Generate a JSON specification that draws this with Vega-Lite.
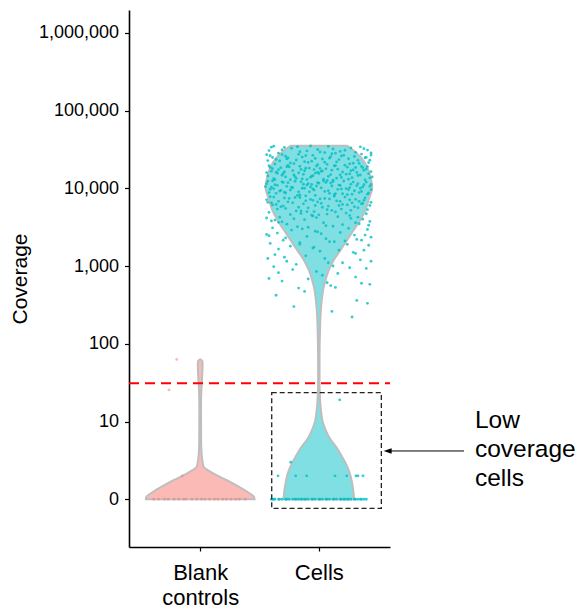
{
  "$schema": "https://vega.github.io/schema/vega-lite/v6.json",
  "width": 261,
  "height": 537,
  "padding": {"left": 9, "top": 10, "right": 0, "bottom": 0},
  "config": {
    "font": "Liberation Sans",
    "view": {"stroke": null},
    "axis": {"grid": false, "domainColor": "#000000", "domainWidth": 1.6, "tickColor": "#000000", "tickWidth": 1.2, "labelColor": "#000000", "titleColor": "#000000", "titleFontWeight": "normal"}
  },
  "datasets": {
    "vcells": [
      {"c": 35200, "x": 1.761, "x2": 2.239},
      {"c": 30000, "x": 1.700, "x2": 2.300},
      {"c": 25400, "x": 1.650, "x2": 2.350},
      {"c": 18900, "x": 1.594, "x2": 2.406},
      {"c": 14000, "x": 1.566, "x2": 2.434},
      {"c": 10400, "x": 1.550, "x2": 2.450},
      {"c": 7400, "x": 1.576, "x2": 2.424},
      {"c": 5240, "x": 1.608, "x2": 2.392},
      {"c": 3900, "x": 1.651, "x2": 2.349},
      {"c": 2900, "x": 1.706, "x2": 2.294},
      {"c": 2150, "x": 1.762, "x2": 2.238},
      {"c": 1600, "x": 1.818, "x2": 2.182},
      {"c": 1190, "x": 1.874, "x2": 2.126},
      {"c": 885, "x": 1.916, "x2": 2.084},
      {"c": 658, "x": 1.944, "x2": 2.056},
      {"c": 489, "x": 1.964, "x2": 2.036},
      {"c": 363, "x": 1.975, "x2": 2.025},
      {"c": 269, "x": 1.983, "x2": 2.017},
      {"c": 149, "x": 1.990, "x2": 2.010},
      {"c": 60, "x": 1.994, "x2": 2.006},
      {"c": 28, "x": 1.994, "x2": 2.006},
      {"c": 17.8, "x": 1.989, "x2": 2.011},
      {"c": 11.8, "x": 1.979, "x2": 2.021},
      {"c": 8.8, "x": 1.966, "x2": 2.034},
      {"c": 6.7, "x": 1.941, "x2": 2.059},
      {"c": 5.1, "x": 1.908, "x2": 2.092},
      {"c": 3.7, "x": 1.853, "x2": 2.147},
      {"c": 2.68, "x": 1.811, "x2": 2.189},
      {"c": 1.9, "x": 1.773, "x2": 2.227},
      {"c": 1.29, "x": 1.744, "x2": 2.256},
      {"c": 0.76, "x": 1.724, "x2": 2.276},
      {"c": 0.31, "x": 1.710, "x2": 2.290},
      {"c": 0, "x": 1.702, "x2": 2.298}
    ],
    "vblank": [
      {"c": 61.8, "x": 0.996, "x2": 1.004},
      {"c": 58.7, "x": 0.982, "x2": 1.018},
      {"c": 52, "x": 0.980, "x2": 1.020},
      {"c": 38.5, "x": 0.983, "x2": 1.017},
      {"c": 24.3, "x": 0.990, "x2": 1.010},
      {"c": 13, "x": 0.993, "x2": 1.007},
      {"c": 4.75, "x": 0.992, "x2": 1.008},
      {"c": 2.68, "x": 0.987, "x2": 1.013},
      {"c": 1.9, "x": 0.978, "x2": 1.022},
      {"c": 1.6, "x": 0.970, "x2": 1.030},
      {"c": 1.35, "x": 0.933, "x2": 1.067},
      {"c": 1.14, "x": 0.888, "x2": 1.112},
      {"c": 0.76, "x": 0.776, "x2": 1.224},
      {"c": 0.44, "x": 0.672, "x2": 1.328},
      {"c": 0.24, "x": 0.601, "x2": 1.399},
      {"c": 0.07, "x": 0.546, "x2": 1.454},
      {"c": 0, "x": 0.542, "x2": 1.458}
    ],
    "pblank": [
      {"x": 0.802, "c": 62}, {"x": 0.737, "c": 24.5}, {"x": 0.849, "c": 1},
      {"x": 0.61, "c": 0}, {"x": 0.65, "c": 0}, {"x": 0.70, "c": 0}, {"x": 0.73, "c": 0}, {"x": 0.78, "c": 0},
      {"x": 0.82, "c": 0}, {"x": 0.86, "c": 0}, {"x": 0.88, "c": 0}, {"x": 0.93, "c": 0}, {"x": 0.97, "c": 0},
      {"x": 1.01, "c": 0}, {"x": 1.04, "c": 0}, {"x": 1.08, "c": 0}, {"x": 1.12, "c": 0}, {"x": 1.15, "c": 0},
      {"x": 1.19, "c": 0}, {"x": 1.22, "c": 0}, {"x": 1.26, "c": 0}, {"x": 1.30, "c": 0}, {"x": 1.33, "c": 0}, {"x": 1.38, "c": 0}
    ],
    "pcells": [
      {"x": 1.62, "c": 34800}, {"x": 1.71, "c": 33500}, {"x": 2.35, "c": 34100}, {"x": 1.93, "c": 35000}, {"x": 2.12, "c": 32000},
      {"x": 1.58, "c": 30500}, {"x": 2.41, "c": 31000}, {"x": 1.84, "c": 29500}, {"x": 2.05, "c": 28800}, {"x": 2.27, "c": 33000},
      {"x": 1.66, "c": 28200}, {"x": 1.99, "c": 31500}, {"x": 2.18, "c": 29800}, {"x": 2.44, "c": 28500}, {"x": 1.77, "c": 32800},
      {"x": 2.08, "c": 34500}, {"x": 1.90, "c": 30200}, {"x": 2.31, "c": 29000}, {"x": 1.60, "c": 33800}, {"x": 2.22, "c": 30800},
      {"x": 1.82, "c": 34200}, {"x": 2.38, "c": 32300}, {"x": 1.69, "c": 31200}, {"x": 2.01, "c": 29300}, {"x": 2.14, "c": 28300},
      {"x": 1.56, "c": 27000}, {"x": 1.74, "c": 24500}, {"x": 2.29, "c": 21000}, {"x": 1.95, "c": 26500}, {"x": 2.43, "c": 23000},
      {"x": 1.63, "c": 20500}, {"x": 2.10, "c": 25500}, {"x": 1.88, "c": 22000}, {"x": 2.36, "c": 27500}, {"x": 1.79, "c": 20800},
      {"x": 2.03, "c": 23800}, {"x": 2.19, "c": 26000}, {"x": 1.67, "c": 22500}, {"x": 2.40, "c": 25000}, {"x": 1.91, "c": 21500},
      {"x": 2.25, "c": 24000}, {"x": 1.59, "c": 26200}, {"x": 2.07, "c": 20300}, {"x": 1.83, "c": 27300}, {"x": 2.33, "c": 22800},
      {"x": 1.72, "c": 25800}, {"x": 1.97, "c": 24200}, {"x": 2.15, "c": 21800}, {"x": 2.44, "c": 26800}, {"x": 1.64, "c": 23500},
      {"x": 2.26, "c": 20600}, {"x": 1.86, "c": 25200}, {"x": 2.11, "c": 27800}, {"x": 1.76, "c": 21200}, {"x": 2.39, "c": 24700},
      {"x": 1.94, "c": 22300}, {"x": 2.21, "c": 26600}, {"x": 1.61, "c": 24900}, {"x": 2.05, "c": 21600}, {"x": 1.81, "c": 23100},
      {"x": 2.30, "c": 25600}, {"x": 1.69, "c": 27100}, {"x": 1.99, "c": 20100}, {"x": 2.17, "c": 23400}, {"x": 2.42, "c": 21400},
      {"x": 1.57, "c": 22700}, {"x": 2.09, "c": 24400}, {"x": 1.89, "c": 26300}, {"x": 2.34, "c": 20900}, {"x": 1.73, "c": 23900},
      {"x": 1.58, "c": 19500}, {"x": 1.92, "c": 18200}, {"x": 2.27, "c": 16800}, {"x": 1.70, "c": 15500}, {"x": 2.08, "c": 14200},
      {"x": 2.41, "c": 19000}, {"x": 1.81, "c": 13400}, {"x": 2.16, "c": 17600}, {"x": 1.63, "c": 12900}, {"x": 1.99, "c": 16100},
      {"x": 2.35, "c": 14800}, {"x": 1.75, "c": 18800}, {"x": 2.04, "c": 13100}, {"x": 2.22, "c": 19800}, {"x": 1.87, "c": 15100},
      {"x": 2.44, "c": 16400}, {"x": 1.66, "c": 17300}, {"x": 2.12, "c": 12700}, {"x": 1.95, "c": 14500}, {"x": 2.31, "c": 18500},
      {"x": 1.56, "c": 15900}, {"x": 1.84, "c": 19200}, {"x": 2.19, "c": 13800}, {"x": 2.38, "c": 17000}, {"x": 1.72, "c": 14000},
      {"x": 2.01, "c": 18000}, {"x": 1.60, "c": 16600}, {"x": 2.26, "c": 15300}, {"x": 1.90, "c": 13000}, {"x": 2.13, "c": 19400},
      {"x": 1.78, "c": 16900}, {"x": 2.43, "c": 13600}, {"x": 2.06, "c": 17800}, {"x": 1.68, "c": 18400}, {"x": 2.33, "c": 14600},
      {"x": 1.97, "c": 15700}, {"x": 1.62, "c": 13300}, {"x": 2.20, "c": 16200}, {"x": 1.85, "c": 17500}, {"x": 2.39, "c": 12800},
      {"x": 1.74, "c": 19700}, {"x": 2.10, "c": 15000}, {"x": 1.93, "c": 13900}, {"x": 2.29, "c": 17200}, {"x": 1.57, "c": 14400},
      {"x": 2.02, "c": 16500}, {"x": 2.24, "c": 18700}, {"x": 1.80, "c": 14100}, {"x": 2.36, "c": 19100}, {"x": 1.65, "c": 15600},
      {"x": 2.15, "c": 13500}, {"x": 1.89, "c": 18100}, {"x": 2.42, "c": 15400}, {"x": 1.71, "c": 16300}, {"x": 2.07, "c": 12600},
      {"x": 1.98, "c": 19300}, {"x": 2.28, "c": 13700}, {"x": 1.61, "c": 17900}, {"x": 1.83, "c": 15800}, {"x": 2.18, "c": 14900},
      {"x": 2.40, "c": 17700}, {"x": 1.76, "c": 12900}, {"x": 2.03, "c": 16700}, {"x": 1.94, "c": 14300}, {"x": 2.32, "c": 16000},
      {"x": 1.59, "c": 18600}, {"x": 2.11, "c": 17100}, {"x": 1.86, "c": 13200}, {"x": 2.23, "c": 15200}, {"x": 1.69, "c": 14700},
      {"x": 2.37, "c": 18300}, {"x": 1.96, "c": 17400}, {"x": 1.64, "c": 16100}, {"x": 2.14, "c": 19600}, {"x": 1.79, "c": 14800},
      {"x": 2.25, "c": 13100}, {"x": 2.00, "c": 15500}, {"x": 1.73, "c": 18900}, {"x": 2.45, "c": 14000}, {"x": 1.88, "c": 16800},
      {"x": 1.57, "c": 12300}, {"x": 1.91, "c": 11500}, {"x": 2.26, "c": 10200}, {"x": 1.68, "c": 9400}, {"x": 2.09, "c": 8600},
      {"x": 2.40, "c": 12000}, {"x": 1.82, "c": 8100}, {"x": 2.17, "c": 11000}, {"x": 1.62, "c": 9900}, {"x": 1.98, "c": 10700},
      {"x": 2.34, "c": 8800}, {"x": 1.74, "c": 11800}, {"x": 2.05, "c": 9100}, {"x": 2.21, "c": 12400}, {"x": 1.88, "c": 10000},
      {"x": 2.44, "c": 9600}, {"x": 1.65, "c": 10900}, {"x": 2.13, "c": 8300}, {"x": 1.94, "c": 11200}, {"x": 2.30, "c": 9300},
      {"x": 1.55, "c": 10500}, {"x": 1.85, "c": 12100}, {"x": 2.20, "c": 8500}, {"x": 2.37, "c": 10400}, {"x": 1.71, "c": 8900},
      {"x": 2.00, "c": 11600}, {"x": 1.59, "c": 9700}, {"x": 2.27, "c": 11300}, {"x": 1.89, "c": 8000}, {"x": 2.12, "c": 12200},
      {"x": 1.77, "c": 10300}, {"x": 2.42, "c": 8700}, {"x": 2.06, "c": 11900}, {"x": 1.67, "c": 9200}, {"x": 2.32, "c": 10800},
      {"x": 1.96, "c": 9500}, {"x": 1.61, "c": 12500}, {"x": 2.19, "c": 9800}, {"x": 1.84, "c": 8200}, {"x": 2.38, "c": 11100},
      {"x": 1.73, "c": 10600}, {"x": 2.10, "c": 11700}, {"x": 1.92, "c": 9000}, {"x": 2.28, "c": 8400}, {"x": 1.56, "c": 11400},
      {"x": 2.02, "c": 10100}, {"x": 2.23, "c": 9900}, {"x": 1.80, "c": 12300}, {"x": 2.35, "c": 10000}, {"x": 1.64, "c": 8600},
      {"x": 2.16, "c": 9700}, {"x": 1.90, "c": 11000}, {"x": 2.43, "c": 10600}, {"x": 1.70, "c": 11900}, {"x": 2.08, "c": 9300},
      {"x": 1.97, "c": 8100}, {"x": 2.29, "c": 12000}, {"x": 1.60, "c": 10300}, {"x": 1.83, "c": 9000}, {"x": 2.18, "c": 10900},
      {"x": 2.41, "c": 8400}, {"x": 1.76, "c": 9500}, {"x": 2.04, "c": 12400}, {"x": 1.93, "c": 10400}, {"x": 2.33, "c": 11500},
      {"x": 1.58, "c": 8800}, {"x": 2.11, "c": 10700}, {"x": 1.87, "c": 11300}, {"x": 2.24, "c": 8300}, {"x": 1.69, "c": 12100},
      {"x": 2.36, "c": 9100}, {"x": 1.95, "c": 9800}, {"x": 1.63, "c": 11100}, {"x": 2.14, "c": 8500}, {"x": 1.78, "c": 10200},
      {"x": 2.25, "c": 9600}, {"x": 1.99, "c": 11800}, {"x": 1.72, "c": 8700}, {"x": 2.44, "c": 11200}, {"x": 1.86, "c": 10000},
      {"x": 1.59, "c": 7800}, {"x": 1.93, "c": 7200}, {"x": 2.28, "c": 6500}, {"x": 1.70, "c": 5900}, {"x": 2.07, "c": 5300},
      {"x": 2.39, "c": 7500}, {"x": 1.81, "c": 5100}, {"x": 2.15, "c": 6900}, {"x": 1.64, "c": 6200}, {"x": 1.99, "c": 6700},
      {"x": 2.33, "c": 5600}, {"x": 1.75, "c": 7400}, {"x": 2.03, "c": 5700}, {"x": 2.22, "c": 7700}, {"x": 1.87, "c": 6300},
      {"x": 2.43, "c": 6000}, {"x": 1.66, "c": 6800}, {"x": 2.11, "c": 5200}, {"x": 1.95, "c": 7000}, {"x": 2.30, "c": 5800},
      {"x": 1.57, "c": 6600}, {"x": 1.84, "c": 7600}, {"x": 2.19, "c": 5400}, {"x": 2.37, "c": 6400}, {"x": 1.72, "c": 5500},
      {"x": 2.01, "c": 7300}, {"x": 1.61, "c": 6100}, {"x": 2.26, "c": 7100}, {"x": 1.90, "c": 5000}, {"x": 2.13, "c": 7900},
      {"x": 1.78, "c": 6500}, {"x": 2.41, "c": 5300}, {"x": 2.05, "c": 7400}, {"x": 1.68, "c": 5800}, {"x": 2.34, "c": 6800},
      {"x": 1.97, "c": 6000}, {"x": 1.62, "c": 7700}, {"x": 2.20, "c": 6200}, {"x": 1.85, "c": 5100}, {"x": 2.38, "c": 7000},
      {"x": 1.74, "c": 6700}, {"x": 2.09, "c": 7300}, {"x": 1.91, "c": 5600}, {"x": 2.27, "c": 5200}, {"x": 1.56, "c": 7100},
      {"x": 2.02, "c": 6400}, {"x": 2.24, "c": 6100}, {"x": 1.80, "c": 7600}, {"x": 2.36, "c": 6300}, {"x": 1.65, "c": 5400},
      {"x": 2.17, "c": 6000}, {"x": 1.89, "c": 6900}, {"x": 2.44, "c": 6600}, {"x": 1.71, "c": 7500}, {"x": 2.08, "c": 5900},
      {"x": 1.96, "c": 5000}, {"x": 2.31, "c": 7200}, {"x": 1.60, "c": 6500}, {"x": 1.83, "c": 5700}, {"x": 2.18, "c": 6800},
      {"x": 1.58, "c": 4900}, {"x": 1.94, "c": 4500}, {"x": 2.27, "c": 4100}, {"x": 1.69, "c": 3700}, {"x": 2.06, "c": 3300},
      {"x": 2.40, "c": 4700}, {"x": 1.82, "c": 3200}, {"x": 2.16, "c": 4300}, {"x": 1.63, "c": 3900}, {"x": 1.98, "c": 4200},
      {"x": 2.34, "c": 3500}, {"x": 1.76, "c": 4600}, {"x": 2.04, "c": 3600}, {"x": 2.23, "c": 4800}, {"x": 1.88, "c": 3950},
      {"x": 2.43, "c": 3750}, {"x": 1.67, "c": 4250}, {"x": 2.12, "c": 3250}, {"x": 1.95, "c": 4400}, {"x": 2.31, "c": 3600},
      {"x": 1.56, "c": 4150}, {"x": 1.85, "c": 4750}, {"x": 2.20, "c": 3400}, {"x": 2.37, "c": 4000}, {"x": 1.73, "c": 3450},
      {"x": 2.00, "c": 4550}, {"x": 1.60, "c": 3800}, {"x": 2.26, "c": 4450}, {"x": 1.91, "c": 3150}, {"x": 2.14, "c": 4950},
      {"x": 1.79, "c": 4050}, {"x": 2.42, "c": 3350}, {"x": 2.07, "c": 4650}, {"x": 1.66, "c": 3650}, {"x": 2.33, "c": 4250},
      {"x": 1.61, "c": 3100}, {"x": 1.97, "c": 2800}, {"x": 2.30, "c": 2500}, {"x": 1.72, "c": 2300}, {"x": 2.09, "c": 2050},
      {"x": 2.41, "c": 2950}, {"x": 1.84, "c": 2000}, {"x": 2.18, "c": 2700}, {"x": 1.58, "c": 2450}, {"x": 2.02, "c": 2600},
      {"x": 2.36, "c": 2150}, {"x": 1.77, "c": 2900}, {"x": 2.06, "c": 2250}, {"x": 2.25, "c": 3050}, {"x": 1.90, "c": 2400},
      {"x": 2.44, "c": 2350}, {"x": 1.65, "c": 2650}, {"x": 2.13, "c": 2050}, {"x": 1.99, "c": 2750}, {"x": 2.32, "c": 2200},
      {"x": 1.56, "c": 2550}, {"x": 1.86, "c": 3000}, {"x": 2.22, "c": 2100}, {"x": 2.39, "c": 2500}, {"x": 1.70, "c": 2150},
      {"x": 1.59, "c": 1950}, {"x": 1.95, "c": 1700}, {"x": 2.29, "c": 1500}, {"x": 1.71, "c": 1300}, {"x": 2.08, "c": 1100},
      {"x": 2.42, "c": 1850}, {"x": 1.81, "c": 1050}, {"x": 2.17, "c": 1600}, {"x": 1.63, "c": 1400}, {"x": 2.01, "c": 1550},
      {"x": 2.35, "c": 1200}, {"x": 1.76, "c": 1800}, {"x": 2.05, "c": 1250}, {"x": 2.24, "c": 1900}, {"x": 1.89, "c": 1350},
      {"x": 2.44, "c": 1150}, {"x": 1.66, "c": 1650}, {"x": 2.12, "c": 1000}, {"x": 1.96, "c": 1750}, {"x": 2.31, "c": 1450},
      {"x": 1.57, "c": 1250}, {"x": 1.84, "c": 1900}, {"x": 2.20, "c": 1100}, {"x": 2.38, "c": 1600}, {"x": 1.73, "c": 1150},
      {"x": 1.62, "c": 980}, {"x": 1.98, "c": 850}, {"x": 2.31, "c": 720}, {"x": 1.69, "c": 640}, {"x": 2.10, "c": 560},
      {"x": 2.40, "c": 930}, {"x": 1.83, "c": 520}, {"x": 2.16, "c": 800}, {"x": 1.58, "c": 690}, {"x": 2.03, "c": 760},
      {"x": 2.36, "c": 600}, {"x": 1.78, "c": 900}, {"x": 2.07, "c": 610}, {"x": 2.26, "c": 950}, {"x": 1.91, "c": 680},
      {"x": 2.43, "c": 580}, {"x": 1.66, "c": 820}, {"x": 2.14, "c": 530},
      {"x": 1.79, "c": 300}, {"x": 2.11, "c": 260}, {"x": 2.28, "c": 220}, {"x": 1.64, "c": 420}, {"x": 2.32, "c": 360},
      {"x": 1.88, "c": 470}, {"x": 2.41, "c": 330},
      {"x": 2.176, "c": 18}, {"x": 1.763, "c": 2},
      {"x": 1.656, "c": 1}, {"x": 1.805, "c": 1}, {"x": 1.898, "c": 1}, {"x": 2.136, "c": 1}, {"x": 2.235, "c": 1},
      {"x": 2.313, "c": 1}, {"x": 2.330, "c": 1}, {"x": 2.372, "c": 1},
      {"x": 1.60, "c": 0}, {"x": 1.61, "c": 0}, {"x": 1.62, "c": 0}, {"x": 1.63, "c": 0}, {"x": 1.66, "c": 0},
      {"x": 1.67, "c": 0}, {"x": 1.69, "c": 0}, {"x": 1.72, "c": 0}, {"x": 1.73, "c": 0}, {"x": 1.75, "c": 0},
      {"x": 1.78, "c": 0}, {"x": 1.80, "c": 0}, {"x": 1.81, "c": 0}, {"x": 1.83, "c": 0}, {"x": 1.85, "c": 0},
      {"x": 1.86, "c": 0}, {"x": 1.88, "c": 0}, {"x": 1.89, "c": 0}, {"x": 1.91, "c": 0}, {"x": 1.94, "c": 0},
      {"x": 1.95, "c": 0}, {"x": 1.97, "c": 0}, {"x": 2.00, "c": 0}, {"x": 2.01, "c": 0}, {"x": 2.03, "c": 0},
      {"x": 2.06, "c": 0}, {"x": 2.07, "c": 0}, {"x": 2.09, "c": 0}, {"x": 2.12, "c": 0}, {"x": 2.13, "c": 0},
      {"x": 2.15, "c": 0}, {"x": 2.18, "c": 0}, {"x": 2.19, "c": 0}, {"x": 2.21, "c": 0}, {"x": 2.22, "c": 0},
      {"x": 2.24, "c": 0}, {"x": 2.25, "c": 0}, {"x": 2.27, "c": 0}, {"x": 2.30, "c": 0}, {"x": 2.31, "c": 0},
      {"x": 2.33, "c": 0}, {"x": 2.35, "c": 0}, {"x": 2.36, "c": 0}, {"x": 2.38, "c": 0}, {"x": 2.40, "c": 0}
    ],
    "thr": [{"x": 0.4, "x2": 2.6, "c": 30}],
    "box": [{"x": 1.603, "x2": 2.527, "c": 22.5, "c2": -0.306}],
    "arrow": [{"x": 2.58, "x2": 3.224, "c": 3.18}],
    "head": [{"x": 2.58, "c": 3.18}],
    "note": [{"x": 3.316, "c": 7.18, "t": "Low\ncoverage\ncells"}]
  },
  "encoding": {
    "x": {
      "field": "x", "type": "quantitative", "title": null,
      "scale": {"domain": [0.4, 2.6], "nice": false, "zero": false},
      "axis": {"values": [1, 2], "labelExpr": "datum.value == 1 ? ['Blank', 'controls'] : 'Cells'", "labelFontSize": 22, "labelLineHeight": 25, "tickSize": 4, "labelPadding": 11, "labelFlush": false, "labelOverlap": false}
    },
    "y": {
      "field": "c", "type": "quantitative", "title": "Coverage",
      "scale": {"type": "symlog", "constant": 1, "domain": [-3.11, 1963000], "nice": false, "zero": false},
      "axis": {"values": [0, 9, 99, 999, 9999, 99999, 999999], "labelExpr": "datum.value == 0 ? '0' : format(datum.value + 1, ',')", "labelFontSize": 18, "tickSize": 4.5, "labelPadding": 6, "titleFontSize": 21, "titlePadding": 8, "labelOverlap": false}
    }
  },
  "layer": [
    {
      "data": {"name": "vblank"},
      "mark": {"type": "area", "orient": "horizontal", "fill": "#FBBAB6", "fillOpacity": 1, "stroke": "#BEBEBE", "strokeWidth": 2, "interpolate": "monotone"},
      "encoding": {"x2": {"field": "x2"}}
    },
    {
      "data": {"name": "vcells"},
      "mark": {"type": "area", "orient": "horizontal", "fill": "#80DFE2", "fillOpacity": 1, "stroke": "#BEBEBE", "strokeWidth": 2, "interpolate": "monotone"},
      "encoding": {"x2": {"field": "x2"}}
    },
    {
      "data": {"name": "pblank"},
      "mark": {"type": "circle", "color": "#F8766D", "opacity": 0.5, "size": 8}
    },
    {
      "data": {"name": "pcells"},
      "mark": {"type": "circle", "color": "#00BFC4", "opacity": 0.8, "size": 8}
    },
    {
      "data": {"name": "thr"},
      "mark": {"type": "rule", "color": "#FF0000", "strokeWidth": 2, "strokeDash": [10, 6]},
      "encoding": {"x2": {"field": "x2"}}
    },
    {
      "data": {"name": "box"},
      "mark": {"type": "rect", "fill": null, "fillOpacity": 0, "stroke": "#222222", "strokeWidth": 1.3, "strokeDash": [5, 3]},
      "encoding": {"x2": {"field": "x2"}, "y2": {"field": "c2"}}
    },
    {
      "data": {"name": "arrow"},
      "mark": {"type": "rule", "color": "#000000", "strokeWidth": 1},
      "encoding": {"x2": {"field": "x2"}}
    },
    {
      "data": {"name": "head"},
      "mark": {"type": "point", "shape": "M-1,0L1,-0.7L1,0.7Z", "filled": true, "color": "#000000", "opacity": 1, "size": 64}
    },
    {
      "data": {"name": "note"},
      "mark": {"type": "text", "align": "left", "baseline": "alphabetic", "fontSize": 24.5, "lineHeight": 29, "lineBreak": "\n", "color": "#000000"},
      "encoding": {"text": {"field": "t"}}
    }
  ]
}
